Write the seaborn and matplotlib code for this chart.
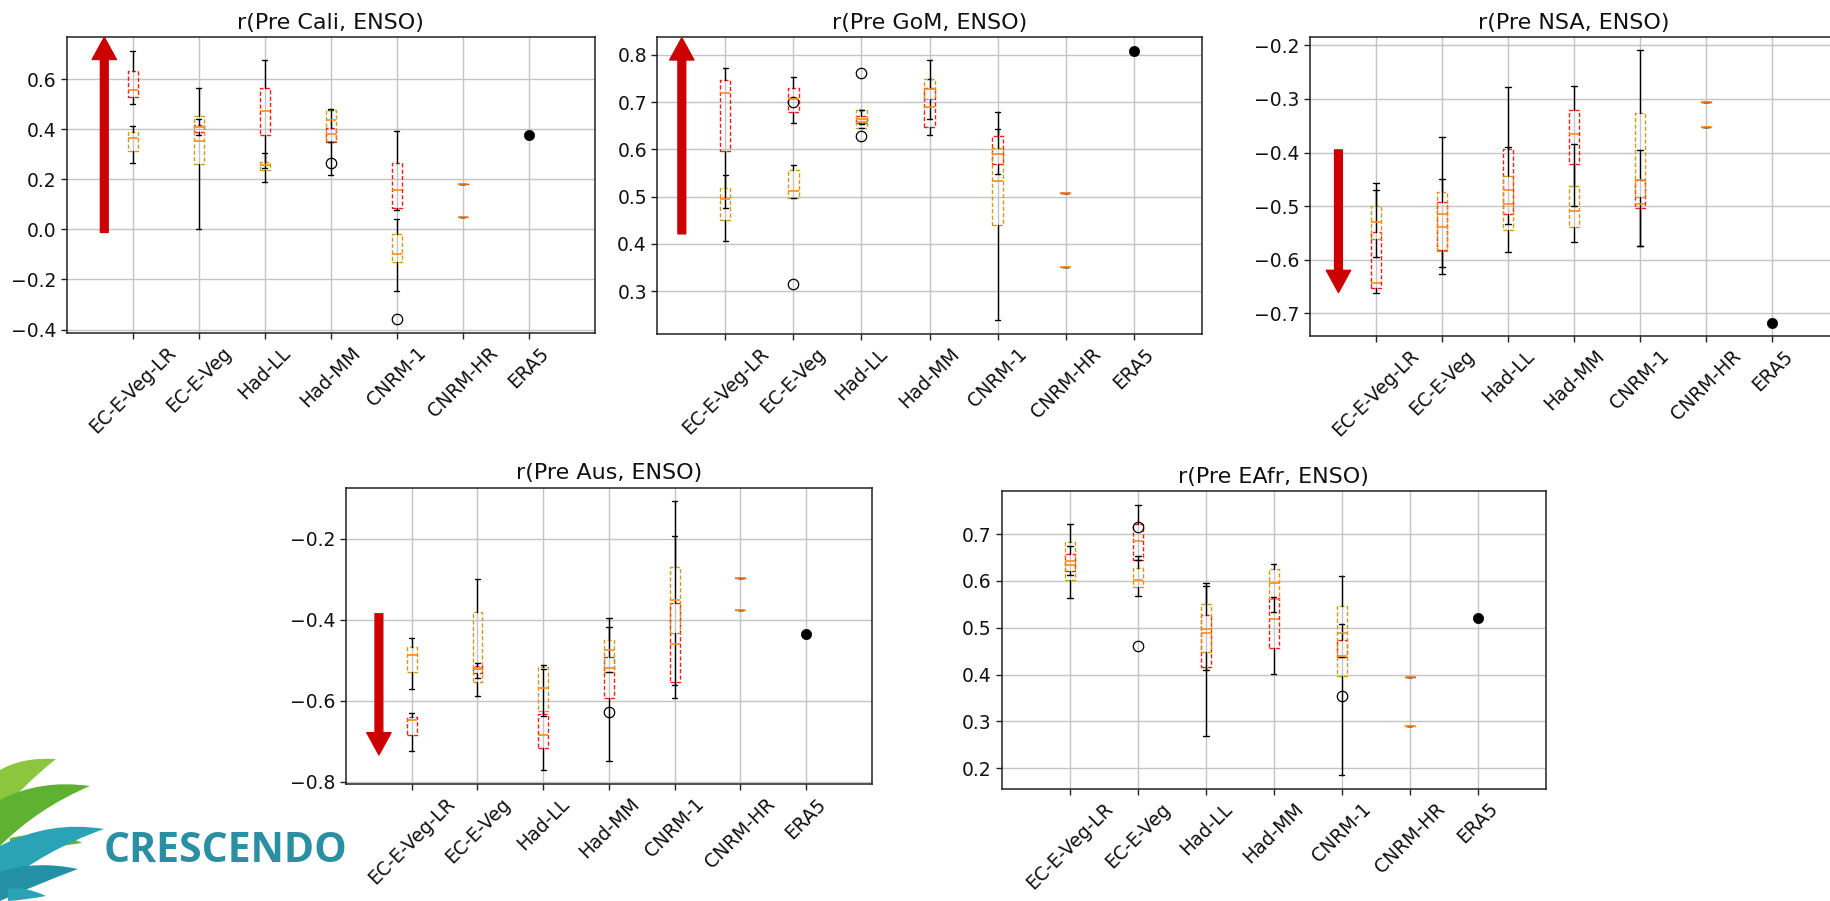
import matplotlib
matplotlib.use("Agg")
import matplotlib.pyplot as plt
import seaborn as sns
import pandas as pd
from matplotlib.path import Path
from matplotlib.patches import PathPatch
from matplotlib.ticker import MultipleLocator

sns.set_style("ticks")
plt.rcParams["font.family"] = ["DejaVu Sans"]
plt.rcParams["axes.unicode_minus"] = True

# ---------------------------------------------------------------------------
# Data: correlation of regional precipitation with ENSO
# each tuple = (whisker low, q1, median, q3, whisker high), one per ensemble
# ---------------------------------------------------------------------------
models = ["EC-E-Veg-LR", "EC-E-Veg", "Had-LL", "Had-MM", "CNRM-1", "CNRM-HR", "ERA5"]

# California
cali_red = [(0.501, 0.529, 0.556, 0.634, 0.712), (0.377, 0.389, 0.408, 0.418, 0.441),
            (0.245, 0.379, 0.472, 0.564, 0.677), (0.350, 0.349, 0.382, 0.406, 0.478),
            (0.078, 0.085, 0.159, 0.267, 0.393)]
cali_gold = [(0.264, 0.313, 0.366, 0.390, 0.412), (0.000, 0.260, 0.353, 0.452, 0.565),
             (0.188, 0.237, 0.258, 0.271, 0.307), (0.217, 0.353, 0.439, 0.476, 0.482),
             (-0.248, -0.129, -0.100, -0.017, 0.040)]
cali_red_fliers = [[], [], [], [0.264], []]
cali_gold_fliers = [[], [], [], [], [-0.358]]
cali_hr = [0.180, 0.050]
cali_era5 = 0.377

# Gulf of Mexico
gom_red = [(0.475, 0.596, 0.719, 0.746, 0.773), (0.656, 0.679, 0.707, 0.729, 0.754),
           (0.653, 0.655, 0.664, 0.670, 0.684), (0.631, 0.648, 0.690, 0.730, 0.749),
           (0.547, 0.568, 0.591, 0.628, 0.642)]
gom_gold = [(0.405, 0.450, 0.495, 0.519, 0.545), (0.496, 0.496, 0.511, 0.557, 0.567),
            (0.646, 0.646, 0.657, 0.683, 0.683), (0.664, 0.707, 0.728, 0.749, 0.789),
            (0.238, 0.440, 0.532, 0.602, 0.679)]
gom_red_fliers = [[], [], [], [], []]
gom_gold_fliers = [[], [0.700, 0.315], [0.762, 0.628], [], []]
gom_hr = [0.507, 0.350]
gom_era5 = 0.808

# Northern South America
nsa_red = [(-0.662, -0.652, -0.644, -0.549, -0.469), (-0.614, -0.582, -0.539, -0.493, -0.449),
           (-0.534, -0.514, -0.496, -0.394, -0.389), (-0.499, -0.422, -0.366, -0.320, -0.276),
           (-0.574, -0.504, -0.495, -0.451, -0.396)]
nsa_gold = [(-0.595, -0.562, -0.529, -0.500, -0.456), (-0.626, -0.584, -0.514, -0.473, -0.370),
            (-0.586, -0.545, -0.470, -0.444, -0.278), (-0.567, -0.539, -0.508, -0.462, -0.384),
            (-0.574, -0.483, -0.452, -0.326, -0.209)]
nsa_red_fliers = [[], [], [], [], []]
nsa_gold_fliers = [[], [], [], [], []]
nsa_hr = [-0.305, -0.353]
nsa_era5 = -0.717

# Australia
aus_red = [(-0.725, -0.686, -0.647, -0.640, -0.631), (-0.543, -0.532, -0.522, -0.514, -0.506),
           (-0.771, -0.718, -0.684, -0.633, -0.522), (-0.748, -0.594, -0.518, -0.491, -0.418),
           (-0.594, -0.553, -0.459, -0.358, -0.193)]
aus_gold = [(-0.570, -0.528, -0.487, -0.467, -0.445), (-0.589, -0.553, -0.520, -0.380, -0.300),
            (-0.637, -0.625, -0.568, -0.516, -0.511), (-0.530, -0.529, -0.475, -0.450, -0.395),
            (-0.561, -0.432, -0.351, -0.270, -0.106)]
aus_red_fliers = [[], [], [], [], []]
aus_gold_fliers = [[], [], [], [-0.629], []]
aus_hr = [-0.296, -0.376]
aus_era5 = -0.435

# East Africa
eafr_red = [(0.612, 0.621, 0.635, 0.657, 0.675), (0.644, 0.644, 0.685, 0.722, 0.763),
            (0.410, 0.417, 0.498, 0.528, 0.590), (0.401, 0.457, 0.519, 0.564, 0.565),
            (0.437, 0.437, 0.439, 0.473, 0.507)]
eafr_gold = [(0.563, 0.602, 0.642, 0.683, 0.721), (0.567, 0.586, 0.601, 0.628, 0.653),
             (0.268, 0.448, 0.489, 0.551, 0.595), (0.533, 0.562, 0.595, 0.625, 0.637),
             (0.186, 0.397, 0.489, 0.547, 0.610)]
eafr_red_fliers = [[], [], [], [], [0.355]]
eafr_gold_fliers = [[], [0.716, 0.462], [], [], []]
eafr_hr = [0.394, 0.291]
eafr_era5 = 0.521

titles = ["r(Pre Cali, ENSO)", "r(Pre GoM, ENSO)", "r(Pre NSA, ENSO)",
          "r(Pre Aus, ENSO)", "r(Pre EAfr, ENSO)"]

# y tick spacing per panel
tick_steps = [0.2, 0.1, 0.1, 0.2, 0.1]

# Trend arrows: (x, tail value, head value); None where no arrow is drawn
cali_arrow = (0.57, -0.012, 0.768)
gom_arrow = (0.36, 0.421, 0.836)
nsa_arrow = (0.43, -0.395, -0.661)
aus_arrow = (0.50, -0.385, -0.734)
eafr_arrow = None

panels = [
    (cali_red, cali_gold, cali_red_fliers, cali_gold_fliers, cali_hr, cali_era5, cali_arrow, (-0.414, 0.768)),
    (gom_red, gom_gold, gom_red_fliers, gom_gold_fliers, gom_hr, gom_era5, gom_arrow, (0.209, 0.837)),
    (nsa_red, nsa_gold, nsa_red_fliers, nsa_gold_fliers, nsa_hr, nsa_era5, nsa_arrow, (-0.742, -0.185)),
    (aus_red, aus_gold, aus_red_fliers, aus_gold_fliers, aus_hr, aus_era5, aus_arrow, (-0.806, -0.073)),
    (eafr_red, eafr_gold, eafr_red_fliers, eafr_gold_fliers, eafr_hr, eafr_era5, eafr_arrow, (0.156, 0.792)),
]

# axes rectangles in figure fractions
rects = [
    [0.0364, 0.6304, 0.2885, 0.3282],
    [0.3590, 0.6293, 0.2973, 0.3293],
    [0.7155, 0.6271, 0.2884, 0.3315],
    [0.1890, 0.1299, 0.2871, 0.3289],
    [0.5472, 0.1246, 0.2969, 0.3304],
]

RED = "#ff1a1a"
GOLD = "#d09a1c"
MEDIAN = "#ff8c1a"


def box_stats(values, fliers):
    out = []
    for (lo, q1, med, q3, hi), fl in zip(values, fliers):
        out.append(dict(whislo=lo, q1=q1, med=med, q3=q3, whishi=hi, fliers=fl))
    return out


def draw_group(ax, stats, positions, color):
    ax.bxp(stats, positions=positions, widths=0.15, capwidths=0.08, manage_ticks=False,
           boxprops=dict(color=color, linestyle=(0, (3, 1.6)), linewidth=1.0),
           whiskerprops=dict(color="black", linewidth=1.0),
           capprops=dict(color="black", linewidth=1.0),
           medianprops=dict(color=MEDIAN, linewidth=1.2),
           flierprops=dict(marker="o", markerfacecolor="none", markeredgecolor="black",
                           markersize=7.5, markeredgewidth=0.9))


fig = plt.figure(figsize=(18.31, 9.01), dpi=100)
fig.patch.set_facecolor("white")

# CRESCENDO logo in the lower-left corner (pixel coordinates)
logo = fig.add_axes([0, 0, 1, 1])
logo.set_xlim(0, 1831)
logo.set_ylim(901, 0)
logo.set_facecolor("none")
logo.axis("off")

swooshes = [
    ("#8cc63f", (0, 770), (22, 757), (56, 759), (22, 786), (0, 814)),
    ("#5fb132", (0, 800), (40, 779), (90, 786), (38, 808), (0, 846)),
    ("#63b437", (10, 838), (55, 828), (82, 843), (50, 848), (10, 850)),
    ("#2ba3b7", (0, 846), (50, 820), (104, 829), (45, 850), (0, 887)),
    ("#2490a6", (0, 872), (35, 860), (78, 869), (35, 885), (0, 901)),
    ("#2ba3b7", (8, 889), (25, 886), (46, 896), (25, 900), (8, 901)),
]
for col, p0, c1, tip, c2, p1 in swooshes:
    pts = [p0, c1, tip, c2, p1, p0]
    codes = [Path.MOVETO, Path.CURVE3, Path.CURVE3, Path.CURVE3, Path.CURVE3, Path.CLOSEPOLY]
    logo.add_patch(PathPatch(Path(pts, codes), facecolor=col, edgecolor="none"))
logo.text(104, 852, "CRESCENDO", ha="left", va="center", fontsize=29.5,
          fontweight="bold", color="#2b8fa3", family=["Open Sans", "DejaVu Sans"])

for rect, title, step, (red, gold, red_fl, gold_fl, hr, era5, arrow, ylim) in zip(
        rects, titles, tick_steps, panels):
    ax = fig.add_axes(rect)
    ax.set_axisbelow(True)
    ax.grid(True, color="#c4c4c4", linewidth=1.0)

    positions = list(range(1, 6))
    draw_group(ax, box_stats(red, red_fl), positions, RED)
    draw_group(ax, box_stats(gold, gold_fl), positions, GOLD)

    # single-member CNRM-HR runs collapse to one line each
    hr_red = box_stats([(hr[0],) * 5], [[]])
    hr_gold = box_stats([(hr[1],) * 5], [[]])
    draw_group(ax, hr_red, [6], RED)
    draw_group(ax, hr_gold, [6], GOLD)

    # reanalysis reference
    era = pd.DataFrame({"pos": [7], "r": [era5]})
    sns.scatterplot(data=era, x="pos", y="r", ax=ax, color="black", s=55,
                    edgecolor="black", linewidth=0.5, zorder=5, legend=False)

    if arrow is not None:
        ax_x, tail, head = arrow
        ax.annotate("", xy=(ax_x, head), xytext=(ax_x, tail), annotation_clip=False,
                    arrowprops=dict(arrowstyle="simple,head_length=1.6,head_width=1.75,tail_width=0.56",
                                    mutation_scale=10, color="#cc0000", shrinkA=0, shrinkB=0))

    ax.set_xlim(0, 8)
    ax.set_ylim(*ylim)
    ax.yaxis.set_major_locator(MultipleLocator(step))
    ax.set_xticks(range(1, 8))
    ax.set_xticklabels(models, rotation=45, ha="center")
    ax.set_xlabel("")
    ax.set_ylabel("")
    ax.tick_params(axis="both", labelsize=13.5, length=4, width=1.0, color="#222222",
                   labelcolor="#111111")
    for sp in ax.spines.values():
        sp.set_visible(True)
        sp.set_linewidth(1.1)
        sp.set_color("#222222")
    ax.set_title(title, fontsize=16, color="#111111", pad=6)

fig.savefig("out.png", dpi=100, facecolor="white")
